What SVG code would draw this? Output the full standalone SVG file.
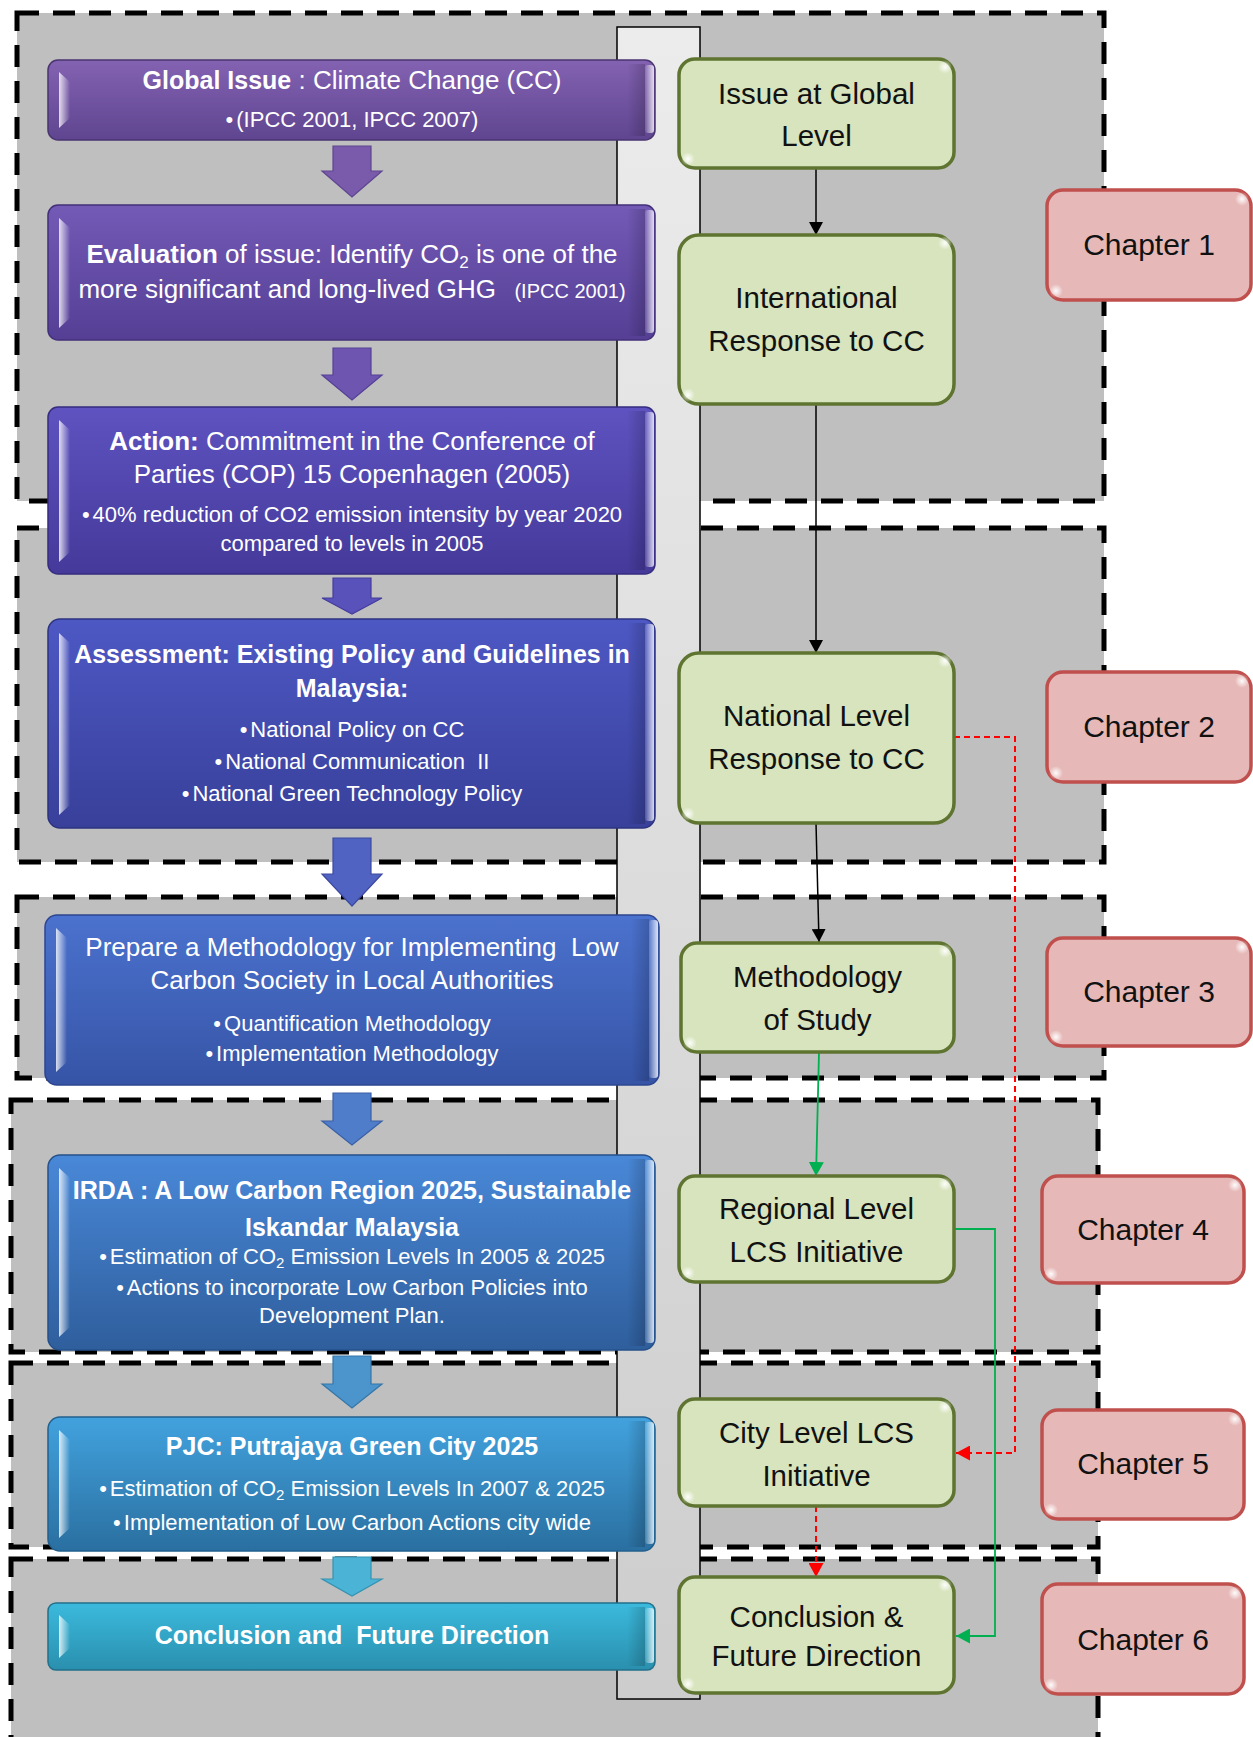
<svg xmlns="http://www.w3.org/2000/svg" width="1253" height="1737" viewBox="0 0 1253 1737">
  <style>
    .reg { fill: #bfbfbf; stroke: #000; stroke-width: 5; stroke-dasharray: 22 14; }
    .strip { fill: url(#stripG); stroke: #000; stroke-width: 1.5; }
    .t { font-family: "Liberation Sans", Arial, sans-serif; text-anchor: middle; }
    .w { fill: #fff; }
    .m { font-size: 26px; }
    .bt { font-size: 25px; font-weight: bold; }
    .s { font-size: 22px; }
    .k { fill: #111; font-size: 29.5px; }
    .ck { fill: #111; font-size: 30px; }
    .gn { fill: #d7e4bd; stroke: #5e7430; stroke-width: 3.5; }
    .rn { fill: #e6b9b8; stroke: #c0504d; stroke-width: 3.5; }
    .hlL { fill: url(#hlL); }
    .hlR { fill: url(#hlR); }
    .shR { fill: url(#shR); }
    .gloss { fill: url(#spot); }
    .blk { fill: none; stroke: #000; stroke-width: 1.5; }
    .grn { fill: none; stroke: #00b050; stroke-width: 1.8; }
    .red { fill: none; stroke: #ff0000; stroke-width: 2; stroke-dasharray: 6 4; }
  </style>
  <defs>
    <linearGradient id="stripG" x1="0" y1="0" x2="0" y2="1">
      <stop offset="0" stop-color="#ececec"/>
      <stop offset="1" stop-color="#cdcdcd"/>
    </linearGradient>
    <linearGradient id="hlL" x1="0" y1="0" x2="1" y2="0">
      <stop offset="0" stop-color="#fff" stop-opacity="0.8"/>
      <stop offset="1" stop-color="#fff" stop-opacity="0"/>
    </linearGradient>
    <linearGradient id="hlR" x1="0" y1="0" x2="1" y2="0">
      <stop offset="0" stop-color="#fff" stop-opacity="0.1"/>
      <stop offset="1" stop-color="#fff" stop-opacity="0.8"/>
    </linearGradient>
    <linearGradient id="shR" x1="0" y1="0" x2="1" y2="0">
      <stop offset="0" stop-color="#000" stop-opacity="0"/>
      <stop offset="1" stop-color="#000" stop-opacity="0.18"/>
    </linearGradient>
    <radialGradient id="spot">
      <stop offset="0" stop-color="#fff" stop-opacity="0.95"/>
      <stop offset="1" stop-color="#fff" stop-opacity="0"/>
    </radialGradient>
    <linearGradient id="c1" x1="0" y1="0" x2="0" y2="1"><stop offset="0" stop-color="#8362b2"/><stop offset="1" stop-color="#5f4590"/></linearGradient>
    <linearGradient id="c2" x1="0" y1="0" x2="0" y2="1"><stop offset="0" stop-color="#735ab6"/><stop offset="1" stop-color="#553f95"/></linearGradient>
    <linearGradient id="c3" x1="0" y1="0" x2="0" y2="1"><stop offset="0" stop-color="#5e53c0"/><stop offset="1" stop-color="#45399a"/></linearGradient>
    <linearGradient id="c4" x1="0" y1="0" x2="0" y2="1"><stop offset="0" stop-color="#4e58c4"/><stop offset="1" stop-color="#38409a"/></linearGradient>
    <linearGradient id="c5" x1="0" y1="0" x2="0" y2="1"><stop offset="0" stop-color="#4b72ce"/><stop offset="1" stop-color="#3654a6"/></linearGradient>
    <linearGradient id="c6" x1="0" y1="0" x2="0" y2="1"><stop offset="0" stop-color="#4988d8"/><stop offset="1" stop-color="#2f5e9c"/></linearGradient>
    <linearGradient id="c7" x1="0" y1="0" x2="0" y2="1"><stop offset="0" stop-color="#42a2de"/><stop offset="1" stop-color="#2a6fa0"/></linearGradient>
    <linearGradient id="c8" x1="0" y1="0" x2="0" y2="1"><stop offset="0" stop-color="#3bbadd"/><stop offset="1" stop-color="#2a8fae"/></linearGradient>
    <marker id="aBlk" viewBox="0 0 13 14" refX="13" refY="7" markerWidth="13" markerHeight="14" markerUnits="userSpaceOnUse" orient="auto">
      <path d="M0,0 L13,7 L0,14 Z" fill="#000"/>
    </marker>
    <marker id="aGrn" viewBox="0 0 14 15" refX="14" refY="7.5" markerWidth="14" markerHeight="15" markerUnits="userSpaceOnUse" orient="auto">
      <path d="M0,0 L14,7.5 L0,15 Z" fill="#00b050"/>
    </marker>
    <marker id="aRed" viewBox="0 0 14 15" refX="14" refY="7.5" markerWidth="14" markerHeight="15" markerUnits="userSpaceOnUse" orient="auto">
      <path d="M0,0 L14,7.5 L0,15 Z" fill="#ff0000"/>
    </marker>
  </defs>

  <rect width="1253" height="1737" fill="#fff"/>

  <!-- chapter regions -->
  <g id="regions">
    <rect class="reg" x="17" y="13" width="1087" height="488"/>
    <rect class="reg" x="17" y="528" width="1087" height="334"/>
    <rect class="reg" x="17" y="897" width="1087" height="181"/>
    <rect class="reg" x="11" y="1100" width="1087" height="252"/>
    <rect class="reg" x="11" y="1363" width="1087" height="184"/>
    <rect class="reg" x="11" y="1559" width="1087" height="200"/>
  </g>

  <!-- vertical band behind the two columns -->
  <rect id="band" class="strip" x="617" y="27" width="83" height="1672"/>

  <!-- connectors -->
  <g id="connectors">
    <path class="blk" d="M816,168 V235" marker-end="url(#aBlk)"/>
    <path class="blk" d="M816,404 V653" marker-end="url(#aBlk)"/>
    <path class="blk" d="M816,823 L819,942" marker-end="url(#aBlk)"/>
    <path class="grn" d="M819,1052 L816,1176" marker-end="url(#aGrn)"/>
    <path class="grn" d="M954,1229 H995 V1636 H956" marker-end="url(#aGrn)"/>
    <path class="red" d="M954,737 H1015 V1453 H956" marker-end="url(#aRed)"/>
    <path class="red" d="M816,1506 V1577" marker-end="url(#aRed)"/>
  </g>

  <!-- block arrows between the stages -->
  <g id="flow-arrows" stroke-width="1.2">
    <path d="M333,146 H371 V171 H382 L352,197 L322,171 H333 Z" fill="#7a5aaa" stroke="#5e4590"/>
    <path d="M333,348 H371 V375 H382 L352,400 L322,375 H333 Z" fill="#6e56b0" stroke="#544096"/>
    <path d="M333,578 H371 V598 H382 L352,614 L322,598 H333 Z" fill="#5a52bb" stroke="#443c9c"/>
    <path d="M333,838 H371 V874 H382 L352,906 L322,874 H333 Z" fill="#5062c2" stroke="#3c4aa0"/>
    <path d="M333,1093 H371 V1121 H382 L352,1145 L322,1121 H333 Z" fill="#4f7dc9" stroke="#3a60a8"/>
    <path d="M333,1356 H371 V1384 H382 L352,1408 L322,1384 H333 Z" fill="#4b94cc" stroke="#3576a8"/>
    <path d="M333,1557 H371 V1579 H382 L352,1596 L322,1579 H333 Z" fill="#4bb4d6" stroke="#3592b0"/>
  </g>

  <!-- stage boxes -->
  <g id="n-global">
    <rect x="48" y="60" width="607" height="80" rx="10" fill="url(#c1)" stroke="#4a3570" stroke-width="1.5"/>
    <path class="hlL" d="M59,72 L70,82 V118 L59,128 Z"/>
    <rect class="shR" x="627" y="64" width="18" height="72"/>
    <rect class="hlR" x="645" y="65" width="9" height="68" rx="3"/>
    <text class="t w" x="352" y="89"><tspan class="bt">Global Issue</tspan><tspan class="m" font-size="25"> : Climate Change (CC)</tspan></text>
    <text class="t w s" x="352" y="127" font-size="20">•<tspan dx="3">(IPCC 2001, IPCC 2007)</tspan></text>
  </g>

  <g id="n-evaluation">
    <rect x="48" y="205" width="607" height="135" rx="10" fill="url(#c2)" stroke="#43307a" stroke-width="1.5"/>
    <path class="hlL" d="M59,218 L70,228 V318 L59,328 Z"/>
    <rect class="shR" x="627" y="209" width="18" height="127"/>
    <rect class="hlR" x="645" y="210" width="9" height="123" rx="3"/>
    <text class="t w m" x="352" y="263"><tspan font-weight="bold">Evaluation</tspan> of issue: Identify CO<tspan font-size="17" dy="5">2</tspan><tspan dy="-5"> is one of the</tspan></text>
    <text class="t w m" x="352" y="298" xml:space="preserve">more significant and long-lived GHG <tspan font-size="20">  (IPCC 2001)</tspan></text>
  </g>

  <g id="n-action">
    <rect x="48" y="407" width="607" height="167" rx="10" fill="url(#c3)" stroke="#362c80" stroke-width="1.5"/>
    <path class="hlL" d="M59,420 L70,430 V552 L59,562 Z"/>
    <rect class="shR" x="627" y="411" width="18" height="159"/>
    <rect class="hlR" x="645" y="412" width="9" height="155" rx="3"/>
    <text class="t w m" x="352" y="450"><tspan font-weight="bold">Action:</tspan> Commitment in the Conference of</text>
    <text class="t w m" x="352" y="483">Parties (COP) 15 Copenhagen (2005)</text>
    <text class="t w s" x="352" y="522">•<tspan dx="3">40% reduction of CO2 emission intensity by year 2020</tspan></text>
    <text class="t w s" x="352" y="551">compared to levels in 2005</text>
  </g>

  <g id="n-assessment">
    <rect x="48" y="619" width="607" height="209" rx="12" fill="url(#c4)" stroke="#2c3380" stroke-width="1.5"/>
    <path class="hlL" d="M59,633 L70,643 V805 L59,815 Z"/>
    <rect class="shR" x="627" y="623" width="18" height="201"/>
    <rect class="hlR" x="645" y="624" width="9" height="197" rx="3"/>
    <text class="t w bt" x="352" y="663" font-size="24.5">Assessment: Existing Policy and Guidelines in</text>
    <text class="t w bt" x="352" y="697" font-size="24.5">Malaysia:</text>
    <text class="t w s" x="352" y="737">•<tspan dx="3">National Policy on CC</tspan></text>
    <text class="t w s" x="352" y="769" xml:space="preserve">•<tspan dx="3">National Communication  II</tspan></text>
    <text class="t w s" x="352" y="801">•<tspan dx="3">National Green Technology Policy</tspan></text>
  </g>

  <g id="n-prepare">
    <rect x="45" y="915" width="614" height="170" rx="12" fill="url(#c5)" stroke="#2c4590" stroke-width="1.5"/>
    <path class="hlL" d="M56,928 L67,938 V1062 L56,1072 Z"/>
    <rect class="shR" x="631" y="919" width="18" height="162"/>
    <rect class="hlR" x="649" y="920" width="9" height="158" rx="3"/>
    <text class="t w m" x="352" y="956" xml:space="preserve">Prepare a Methodology for Implementing  Low</text>
    <text class="t w m" x="352" y="989">Carbon Society in Local Authorities</text>
    <text class="t w s" x="352" y="1031">•<tspan dx="3">Quantification Methodology</tspan></text>
    <text class="t w s" x="352" y="1061">•<tspan dx="3">Implementation Methodology</tspan></text>
  </g>

  <g id="n-irda">
    <rect x="48" y="1155" width="607" height="195" rx="12" fill="url(#c6)" stroke="#26508a" stroke-width="1.5"/>
    <path class="hlL" d="M59,1168 L70,1178 V1327 L59,1337 Z"/>
    <rect class="shR" x="627" y="1159" width="18" height="187"/>
    <rect class="hlR" x="645" y="1160" width="9" height="183" rx="3"/>
    <text class="t w bt" x="352" y="1199">IRDA : A Low Carbon Region 2025, Sustainable</text>
    <text class="t w bt" x="352" y="1236">Iskandar Malaysia</text>
    <text class="t w s" x="352" y="1264">•<tspan dx="3">Estimation of CO</tspan><tspan font-size="15" dy="4">2</tspan><tspan dy="-4"> Emission Levels In 2005 &amp; 2025</tspan></text>
    <text class="t w s" x="352" y="1295">•<tspan dx="3">Actions to incorporate Low Carbon Policies into</tspan></text>
    <text class="t w s" x="352" y="1323">Development Plan.</text>
  </g>

  <g id="n-pjc">
    <rect x="48" y="1417" width="607" height="134" rx="12" fill="url(#c7)" stroke="#22608e" stroke-width="1.5"/>
    <path class="hlL" d="M59,1430 L70,1440 V1528 L59,1538 Z"/>
    <rect class="shR" x="627" y="1421" width="18" height="126"/>
    <rect class="hlR" x="645" y="1422" width="9" height="122" rx="3"/>
    <text class="t w bt" x="352" y="1455">PJC: Putrajaya Green City 2025</text>
    <text class="t w s" x="352" y="1496">•<tspan dx="3">Estimation of CO</tspan><tspan font-size="15" dy="4">2</tspan><tspan dy="-4"> Emission Levels In 2007 &amp; 2025</tspan></text>
    <text class="t w s" x="352" y="1530">•<tspan dx="3">Implementation of Low Carbon Actions city wide</tspan></text>
  </g>

  <g id="n-conclusion">
    <rect x="48" y="1603" width="607" height="67" rx="8" fill="url(#c8)" stroke="#23708a" stroke-width="1.5"/>
    <path class="hlL" d="M59,1615 L70,1625 V1648 L59,1658 Z"/>
    <rect class="shR" x="627" y="1607" width="18" height="59"/>
    <rect class="hlR" x="645" y="1608" width="9" height="55" rx="3"/>
    <text class="t w bt" x="352" y="1644" font-size="25.5" xml:space="preserve">Conclusion and  Future Direction</text>
  </g>

  <!-- level boxes -->
  <g id="n-global-level">
    <rect class="gn" x="679" y="59" width="275" height="109" rx="16"/>
    <circle class="gloss" cx="945" cy="67" r="7"/>
    <circle class="gloss" cx="688" cy="159" r="7"/>
    <text class="t k" x="816.5" y="104">Issue at Global</text>
    <text class="t k" x="816.5" y="146">Level</text>
  </g>
  <g id="n-international">
    <rect class="gn" x="679" y="235" width="275" height="169" rx="20"/>
    <circle class="gloss" cx="945" cy="243" r="7"/>
    <circle class="gloss" cx="688" cy="395" r="7"/>
    <text class="t k" x="816.5" y="308">International</text>
    <text class="t k" x="816.5" y="351">Response to CC</text>
  </g>
  <g id="n-national">
    <rect class="gn" x="679" y="653" width="275" height="170" rx="20"/>
    <circle class="gloss" cx="945" cy="661" r="7"/>
    <circle class="gloss" cx="688" cy="814" r="7"/>
    <text class="t k" x="816.5" y="726">National Level</text>
    <text class="t k" x="816.5" y="769">Response to CC</text>
  </g>
  <g id="n-methodology">
    <rect class="gn" x="681" y="943" width="273" height="109" rx="16"/>
    <circle class="gloss" cx="945" cy="951" r="7"/>
    <circle class="gloss" cx="690" cy="1043" r="7"/>
    <text class="t k" x="817.5" y="987">Methodology</text>
    <text class="t k" x="817.5" y="1030">of Study</text>
  </g>
  <g id="n-regional">
    <rect class="gn" x="679" y="1176" width="275" height="106" rx="16"/>
    <circle class="gloss" cx="945" cy="1184" r="7"/>
    <circle class="gloss" cx="688" cy="1273" r="7"/>
    <text class="t k" x="816.5" y="1219">Regional Level</text>
    <text class="t k" x="816.5" y="1262">LCS Initiative</text>
  </g>
  <g id="n-city">
    <rect class="gn" x="679" y="1399" width="275" height="107" rx="16"/>
    <circle class="gloss" cx="945" cy="1407" r="7"/>
    <circle class="gloss" cx="688" cy="1497" r="7"/>
    <text class="t k" x="816.5" y="1443">City Level LCS</text>
    <text class="t k" x="816.5" y="1486">Initiative</text>
  </g>
  <g id="n-final">
    <rect class="gn" x="679" y="1577" width="275" height="116" rx="16"/>
    <circle class="gloss" cx="945" cy="1585" r="7"/>
    <circle class="gloss" cx="688" cy="1684" r="7"/>
    <text class="t k" x="816.5" y="1627">Conclusion &amp;</text>
    <text class="t k" x="816.5" y="1666">Future Direction</text>
  </g>

  <!-- chapter tags -->
  <g id="ch1">
    <rect class="rn" x="1047" y="190" width="204" height="110" rx="16"/>
    <circle class="gloss" cx="1242" cy="199" r="7"/>
    <circle class="gloss" cx="1056" cy="291" r="7"/>
    <text class="t ck" x="1149" y="255">Chapter 1</text>
  </g>
  <g id="ch2">
    <rect class="rn" x="1047" y="672" width="204" height="110" rx="16"/>
    <circle class="gloss" cx="1242" cy="681" r="7"/>
    <circle class="gloss" cx="1056" cy="773" r="7"/>
    <text class="t ck" x="1149" y="737">Chapter 2</text>
  </g>
  <g id="ch3">
    <rect class="rn" x="1047" y="938" width="204" height="108" rx="16"/>
    <circle class="gloss" cx="1242" cy="947" r="7"/>
    <circle class="gloss" cx="1056" cy="1037" r="7"/>
    <text class="t ck" x="1149" y="1002">Chapter 3</text>
  </g>
  <g id="ch4">
    <rect class="rn" x="1042" y="1176" width="202" height="107" rx="16"/>
    <circle class="gloss" cx="1235" cy="1185" r="7"/>
    <circle class="gloss" cx="1051" cy="1274" r="7"/>
    <text class="t ck" x="1143" y="1240">Chapter 4</text>
  </g>
  <g id="ch5">
    <rect class="rn" x="1042" y="1410" width="202" height="109" rx="16"/>
    <circle class="gloss" cx="1235" cy="1419" r="7"/>
    <circle class="gloss" cx="1051" cy="1510" r="7"/>
    <text class="t ck" x="1143" y="1474">Chapter 5</text>
  </g>
  <g id="ch6">
    <rect class="rn" x="1042" y="1584" width="202" height="110" rx="16"/>
    <circle class="gloss" cx="1235" cy="1593" r="7"/>
    <circle class="gloss" cx="1051" cy="1685" r="7"/>
    <text class="t ck" x="1143" y="1650">Chapter 6</text>
  </g>
</svg>
